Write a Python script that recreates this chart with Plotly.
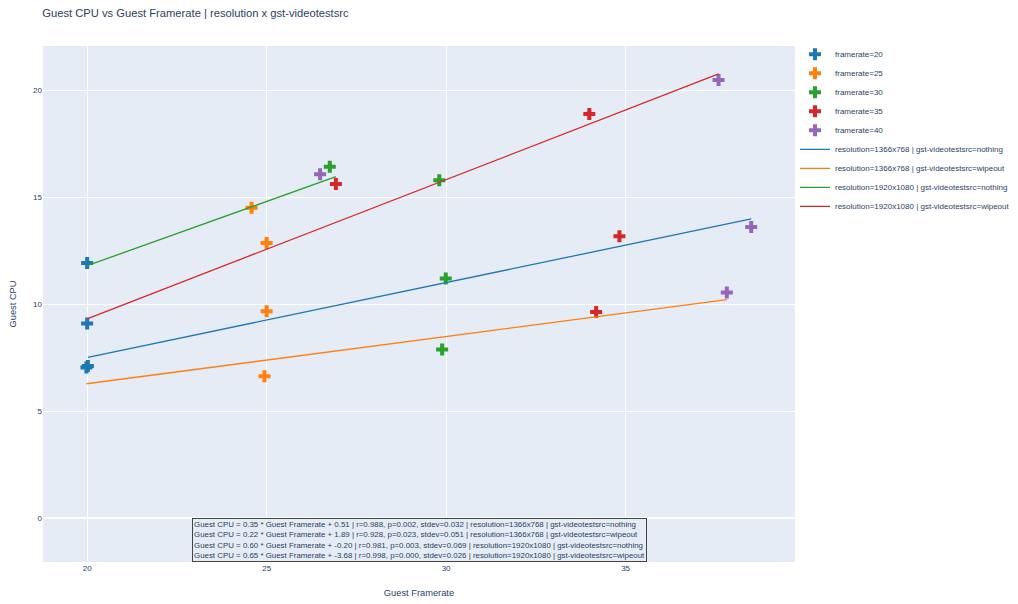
import numpy as np
import plotly.graph_objects as go

# ---- data ----
framerates = [20, 25, 30, 35, 40]
framerate_colors = ["#1f77b4", "#ff7f0e", "#2ca02c", "#d62728", "#9467bd"]

groups = [
    "resolution=1366x768 | gst-videotestsrc=nothing",
    "resolution=1366x768 | gst-videotestsrc=wipeout",
    "resolution=1920x1080 | gst-videotestsrc=nothing",
    "resolution=1920x1080 | gst-videotestsrc=wipeout",
]
group_colors = ["#1f77b4", "#ff7f0e", "#2ca02c", "#d62728"]

# measured guest framerate per group, ordered by requested framerate 20..40
fps_1366_nothing = [20.02, 25.00, 29.99, 34.83, 38.50]
fps_1366_wipeout = [19.98, 24.94, 29.89, 34.18, 37.82]
fps_1920_nothing = [20.00, 24.58, 26.76, 26.93, 26.49]
fps_1920_wipeout = [20.00, 25.00, 29.81, 33.99, 37.59]

cpu_1366_nothing = [7.12, 9.67, 11.20, 13.18, 13.61]
cpu_1366_wipeout = [7.04, 6.64, 7.88, 9.64, 10.55]
cpu_1920_nothing = [11.93, 14.50, 16.42, 15.61, 16.07]
cpu_1920_wipeout = [9.10, 12.86, 15.79, 18.88, 20.47]

# regression statistics (from the annotation)
slopes = [0.35, 0.22, 0.60, 0.65]
intercepts = [0.51, 1.89, -0.20, -3.68]
r_values = [0.988, 0.928, 0.981, 0.998]
p_values = [0.002, 0.023, 0.003, 0.000]
stdevs = [0.032, 0.051, 0.069, 0.026]

fps_by_group = [fps_1366_nothing, fps_1366_wipeout, fps_1920_nothing, fps_1920_wipeout]
cpu_by_group = [cpu_1366_nothing, cpu_1366_wipeout, cpu_1920_nothing, cpu_1920_wipeout]

FONT = "Liberation Sans, Arial, sans-serif"

fig = go.Figure()

# markers, one trace per requested framerate
for i, fr in enumerate(framerates):
    xs = [fps_by_group[g][i] for g in range(len(groups))]
    ys = [cpu_by_group[g][i] for g in range(len(groups))]
    fig.add_trace(go.Scatter(
        x=xs, y=ys, mode="markers", name=f"framerate={fr}",
        marker=dict(symbol="cross", size=10, color=framerate_colors[i]),
    ))

# regression lines
for g, name in enumerate(groups):
    xs = np.array(sorted(fps_by_group[g]))
    ys = slopes[g] * xs + intercepts[g]
    fig.add_trace(go.Scatter(
        x=xs, y=ys, mode="lines", name=name,
        line=dict(color=group_colors[g], width=1.3),
    ))

lines = []
for g, name in enumerate(groups):
    lines.append(
        f"Guest CPU = {slopes[g]:.2f} * Guest Framerate + {intercepts[g]:.2f} | "
        f"r={r_values[g]:.3f}, p={p_values[g]:.3f}, stdev={stdevs[g]:.3f} | {name}"
    )

fig.add_annotation(
    text="<br>".join(lines), xref="paper", yref="paper", x=0.5, y=0,
    xanchor="center", yanchor="bottom", align="left", showarrow=False,
    font=dict(size=7.9, color="#2a3f5f", family=FONT),
    bgcolor="#e5ecf6", bordercolor="#444", borderwidth=1, borderpad=1,
)

# page body has an 8px margin, so the figure is a bit smaller than the window
fig.update_layout(
    template="plotly",
    width=1010, height=596,
    margin=dict(l=35, r=223, t=38, b=42, autoexpand=False),
    font=dict(family=FONT, size=8, color="#2a3f5f"),
    title=dict(text="Guest CPU vs Guest Framerate | resolution x gst-videotestsrc",
               x=0.034, xanchor="left", y=0.992, yanchor="middle",
               font=dict(size=11.2)),
    xaxis=dict(title=dict(text="Guest Framerate", font=dict(size=9.3), standoff=17),
               range=[18.77, 39.72], tickvals=[20, 25, 30, 35]),
    yaxis=dict(title=dict(text="Guest CPU", font=dict(size=9.3)),
               range=[-2.04, 22.06], tickvals=[0, 5, 10, 15, 20]),
    legend=dict(font=dict(size=8), tracegroupgap=0, x=1.0, y=1.012),
)

fig.write_html("out.html")
